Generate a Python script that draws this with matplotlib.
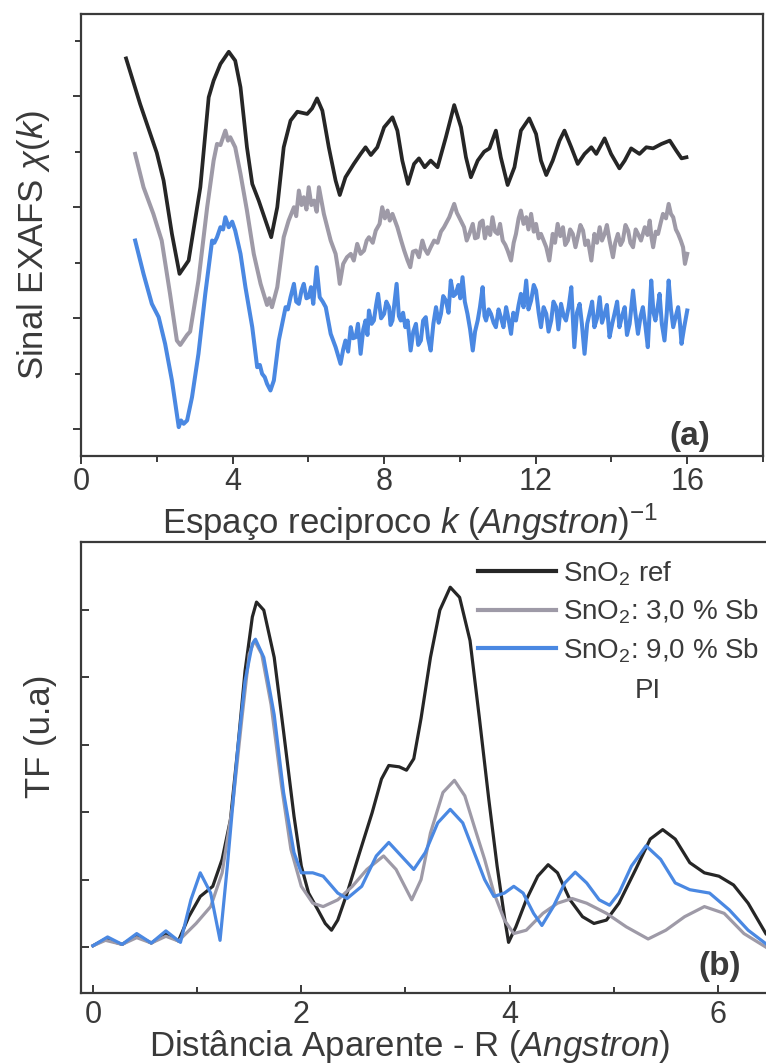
import matplotlib
matplotlib.use("Agg")
import matplotlib.pyplot as plt
from matplotlib.ticker import MultipleLocator
from matplotlib.lines import Line2D

plt.rcParams['font.family'] = ['Liberation Sans', 'DejaVu Sans']
plt.rcParams['mathtext.fontset'] = 'custom'
plt.rcParams['mathtext.rm'] = 'Liberation Sans'
plt.rcParams['mathtext.it'] = 'Liberation Sans:italic'
plt.rcParams['mathtext.bf'] = 'Liberation Sans:bold'

# ---- (a) EXAFS signal chi(k), curves stacked with offsets ----
k_ref = [1.19, 1.56, 2.00, 2.18, 2.40, 2.60, 2.84, 3.15, 3.37, 3.50, 3.68, 3.90, 4.07, 4.21,
         4.38, 4.52, 4.69, 4.87, 5.02, 5.18, 5.35, 5.53, 5.71, 5.97, 6.10, 6.23, 6.37, 6.54,
         6.72, 6.83, 6.98, 7.20, 7.38, 7.51, 7.65, 7.82, 8.00, 8.22, 8.35, 8.48, 8.63, 8.79,
         8.92, 9.07, 9.23, 9.41, 9.63, 9.85, 10.03, 10.16, 10.29, 10.47, 10.64, 10.78, 10.95,
         11.08, 11.26, 11.44, 11.61, 11.83, 12.01, 12.14, 12.28, 12.45, 12.63, 12.76, 12.94,
         13.11, 13.29, 13.47, 13.60, 13.82, 13.99, 14.21, 14.35, 14.52, 14.74, 14.92, 15.10,
         15.32, 15.54, 15.71, 15.85, 15.98]
chi_ref = [3.34, 2.93, 2.49, 2.24, 1.76, 1.40, 1.52, 2.18, 2.99, 3.14, 3.29, 3.40, 3.32, 3.08,
           2.54, 2.21, 2.06, 1.88, 1.73, 2.00, 2.54, 2.78, 2.86, 2.84, 2.89, 2.98, 2.87, 2.54,
           2.24, 2.11, 2.27, 2.39, 2.48, 2.54, 2.47, 2.54, 2.72, 2.81, 2.69, 2.42, 2.21, 2.39,
           2.44, 2.36, 2.42, 2.36, 2.63, 2.92, 2.72, 2.45, 2.27, 2.42, 2.50, 2.53, 2.69,
           2.45, 2.20, 2.36, 2.69, 2.80, 2.66, 2.42, 2.29, 2.42, 2.60, 2.69, 2.54,
           2.39, 2.48, 2.54, 2.48, 2.62, 2.48, 2.35, 2.42, 2.53, 2.48, 2.54, 2.53,
           2.57, 2.60, 2.51, 2.44, 2.45]

k_sb3 = [1.43, 1.65, 1.91, 2.13, 2.35, 2.53, 2.62, 2.80, 2.88, 3.10, 3.33, 3.50, 3.59, 3.68,
         3.74, 3.81, 3.88, 3.94, 4.07, 4.21, 4.38, 4.56, 4.74, 4.91, 4.97, 5.04, 5.18, 5.35,
         5.48, 5.62, 5.68, 5.75, 5.82, 5.88, 5.95, 6.01, 6.08, 6.15, 6.22, 6.28, 6.41, 6.59,
         6.72, 6.78, 6.83, 6.92, 7.02, 7.12, 7.20, 7.29, 7.38, 7.47, 7.54, 7.60, 7.70, 7.78,
         7.88, 7.95, 8.02, 8.09, 8.15, 8.22, 8.35, 8.45, 8.53, 8.62, 8.69, 8.76, 8.84, 8.92,
         9.01, 9.08, 9.15, 9.23, 9.32, 9.41, 9.50, 9.58, 9.72, 9.85, 9.92, 9.98, 10.11, 10.18,
         10.25, 10.34, 10.40, 10.47, 10.53, 10.60, 10.66, 10.73, 10.80, 10.86, 10.93, 11.00,
         11.06, 11.13, 11.20, 11.26, 11.35, 11.42, 11.48, 11.55, 11.61, 11.68, 11.75, 11.81,
         11.88, 11.95, 12.01, 12.08, 12.14, 12.21, 12.28, 12.36, 12.45, 12.51, 12.58, 12.65,
         12.72, 12.78, 12.85, 12.91, 12.98, 13.05, 13.11, 13.18, 13.25, 13.31, 13.38, 13.47,
         13.55, 13.62, 13.69, 13.75, 13.82, 13.88, 13.95, 14.04, 14.10, 14.17, 14.24, 14.30,
         14.37, 14.44, 14.50, 14.57, 14.64, 14.70, 14.78, 14.88, 14.95, 15.01, 15.06, 15.10,
         15.17, 15.23, 15.30, 15.36, 15.44, 15.51, 15.57, 15.63, 15.70, 15.76, 15.83, 15.89,
         15.94, 16.00]
chi_sb3 = [2.48, 2.18, 1.94, 1.70, 1.22, 0.80, 0.76, 0.85, 0.88, 1.34, 2.00, 2.42, 2.57, 2.56,
           2.62, 2.69, 2.60, 2.63, 2.54, 2.30, 1.97, 1.58, 1.31, 1.12, 1.18, 1.10, 1.28, 1.73,
           1.88, 2.00, 1.92, 2.15, 2.02, 2.09, 1.98, 2.18, 2.02, 2.06, 1.96, 2.18, 1.94, 1.70,
           1.58, 1.45, 1.31, 1.49, 1.55, 1.58, 1.52, 1.67, 1.58, 1.61, 1.70, 1.73, 1.68, 1.79,
           1.85, 2.00, 1.90, 1.97, 1.88, 1.94, 1.82, 1.70, 1.61, 1.52, 1.46, 1.60, 1.61, 1.55,
           1.70, 1.62, 1.58, 1.64, 1.70, 1.68, 1.78, 1.82, 1.91, 2.03, 1.95, 1.91, 1.82, 1.70,
           1.76, 1.85, 1.72, 1.73, 1.86, 1.88, 1.72, 1.82, 1.75, 1.91, 1.78, 1.76,
           1.85, 1.70, 1.66, 1.61, 1.52, 1.68, 1.76, 1.90, 1.97, 1.85, 1.91, 1.80,
           1.94, 1.78, 1.85, 1.72, 1.76, 1.70, 1.64, 1.52, 1.76, 1.68, 1.85, 1.74,
           1.82, 1.66, 1.70, 1.80, 1.76, 1.64, 1.73, 1.84, 1.79, 1.66, 1.70, 1.52,
           1.76, 1.68, 1.82, 1.70, 1.76, 1.84, 1.70, 1.55, 1.68, 1.76, 1.66, 1.70,
           1.84, 1.79, 1.68, 1.64, 1.80, 1.76, 1.70, 1.82, 1.75, 1.88, 1.72, 1.64,
           1.78, 1.76, 1.86, 1.94, 1.90, 2.03, 1.94, 1.91, 1.80, 1.76, 1.70, 1.64,
           1.49, 1.58]

k_sb9 = [1.43, 1.65, 1.87, 2.05, 2.22, 2.40, 2.58, 2.64, 2.71, 2.80, 2.93, 3.10, 3.28, 3.46,
         3.52, 3.59, 3.68, 3.75, 3.81, 3.90, 3.99, 4.07, 4.21, 4.34, 4.52, 4.65, 4.72, 4.78,
         4.85, 4.91, 5.00, 5.09, 5.22, 5.40, 5.46, 5.53, 5.62, 5.68, 5.75, 5.82, 5.88, 5.95,
         6.01, 6.07, 6.13, 6.22, 6.30, 6.38, 6.46, 6.59, 6.72, 6.79, 6.85, 6.92, 6.98, 7.05,
         7.12, 7.18, 7.25, 7.31, 7.38, 7.45, 7.51, 7.56, 7.60, 7.67, 7.73, 7.79, 7.84, 7.92,
         8.00, 8.06, 8.13, 8.17, 8.22, 8.33, 8.39, 8.44, 8.50, 8.56, 8.62, 8.70, 8.77, 8.84,
         8.90, 8.97, 9.03, 9.10, 9.16, 9.23, 9.30, 9.37, 9.44, 9.50, 9.56, 9.63, 9.70, 9.76,
         9.83, 9.89, 9.96, 10.01, 10.07, 10.13, 10.20, 10.27, 10.34, 10.40, 10.47, 10.53,
         10.60, 10.65, 10.69, 10.76, 10.82, 10.89, 10.95, 11.02, 11.08, 11.15, 11.22, 11.28,
         11.35, 11.41, 11.48, 11.55, 11.61, 11.68, 11.75, 11.81, 11.88, 11.95, 12.01, 12.08,
         12.14, 12.21, 12.28, 12.34, 12.41, 12.47, 12.54, 12.60, 12.67, 12.74, 12.80, 12.87,
         12.94, 13.02, 13.09, 13.16, 13.22, 13.29, 13.36, 13.42, 13.49, 13.55, 13.62, 13.69,
         13.75, 13.82, 13.88, 13.95, 14.02, 14.08, 14.15, 14.21, 14.28, 14.35, 14.41, 14.48,
         14.57, 14.63, 14.70, 14.77, 14.83, 14.90, 14.96, 15.05, 15.11, 15.16, 15.22, 15.27,
         15.33, 15.40, 15.46, 15.51, 15.57, 15.63, 15.70, 15.76, 15.81, 15.85, 15.92, 16.00]
chi_sb9 = [1.70, 1.40, 1.13, 1.01, 0.77, 0.44, 0.02, 0.08, 0.05, 0.08, 0.29, 0.68, 1.22, 1.70,
           1.68, 1.73, 1.82, 1.80, 1.91, 1.82, 1.87, 1.79, 1.58, 1.28, 0.92, 0.56, 0.58, 0.50,
           0.47, 0.41, 0.35, 0.44, 0.80, 1.10, 1.08, 1.19, 1.31, 1.15, 1.13, 1.25, 1.31, 1.18,
           1.19, 1.28, 1.13, 1.46, 1.19, 1.15, 1.10, 0.86, 0.74, 0.66, 0.59, 0.72, 0.80, 0.70,
           0.92, 0.82, 0.83, 0.95, 0.68, 0.90, 0.98, 0.85, 1.07, 0.95, 0.98, 1.12, 1.22, 1.00,
           1.04, 1.15, 1.10, 0.94, 0.98, 1.31, 1.02, 0.98, 1.05, 0.92, 0.98, 0.71, 0.88, 0.95,
           0.76, 0.80, 0.98, 1.01, 0.82, 0.71, 0.95, 1.10, 0.96, 1.04, 1.20, 1.16, 1.05, 1.34,
           1.20, 1.22, 1.30, 1.18, 1.37, 1.15, 1.04, 0.90, 0.71, 0.88, 0.98, 1.10,
           1.28, 1.02, 0.98, 1.08, 1.04, 0.96, 0.92, 1.08, 1.01, 0.92, 1.10, 1.00,
           0.86, 1.05, 0.98, 1.12, 1.22, 1.10, 1.34, 1.08, 1.16, 1.30, 1.25, 1.05,
           0.92, 1.10, 1.04, 0.88, 0.98, 1.15, 1.10, 0.90, 1.13, 1.02, 0.98, 1.10,
           1.28, 0.74, 1.05, 1.13, 0.95, 0.68, 0.95, 1.04, 1.15, 0.92, 1.00, 1.19,
           0.96, 1.04, 1.12, 0.83, 0.95, 1.04, 1.15, 0.92, 1.02, 1.10, 0.85, 0.95,
           1.25, 1.05, 0.86, 1.02, 1.10, 0.92, 0.74, 1.34, 1.05, 0.98, 1.10, 1.22,
           0.95, 0.80, 1.05, 1.34, 1.08, 0.92, 1.02, 1.10, 0.95, 0.77, 0.92, 1.07]

# ---- (b) Fourier transform magnitude vs R ----
r_ref = [0.00, 0.12, 0.28, 0.42, 0.56, 0.70, 0.82, 0.92, 1.03, 1.15, 1.24, 1.32, 1.39, 1.46,
         1.53, 1.57, 1.64, 1.74, 1.83, 1.93, 2.00, 2.07, 2.16, 2.23, 2.29, 2.35, 2.44, 2.56,
         2.68, 2.77, 2.84, 2.94, 3.01, 3.08, 3.15, 3.24, 3.33, 3.43, 3.52, 3.62, 3.71, 3.80,
         3.88, 3.95, 3.99, 4.06, 4.16, 4.27, 4.37, 4.46, 4.58, 4.70, 4.81, 4.93, 5.05, 5.21,
         5.35, 5.47, 5.59, 5.73, 5.87, 6.01, 6.15, 6.29, 6.46]
tf_ref = [0.02, 0.12, 0.04, 0.17, 0.06, 0.20, 0.09, 0.45, 0.75, 0.90, 1.30, 1.89, 2.94, 4.09,
          4.89, 5.11, 4.99, 4.29, 3.19, 1.94, 1.20, 0.80, 0.55, 0.35, 0.25, 0.40, 0.80, 1.40,
          1.99, 2.49, 2.69, 2.67, 2.62, 2.79, 3.39, 4.29, 4.99, 5.33, 5.18, 4.54, 3.39, 2.19,
          1.20, 0.45, 0.07, 0.30, 0.70, 1.05, 1.22, 1.10, 0.70, 0.45, 0.35, 0.40, 0.65, 1.15,
          1.60, 1.74, 1.60, 1.25, 1.10, 1.05, 0.92, 0.65, 0.20]

r_sb3 = [0.00, 0.12, 0.28, 0.42, 0.56, 0.70, 0.82, 0.99, 1.13, 1.24, 1.34, 1.43, 1.50, 1.55,
         1.62, 1.71, 1.81, 1.90, 2.00, 2.11, 2.21, 2.35, 2.49, 2.63, 2.79, 2.91, 3.01, 3.06,
         3.15, 3.24, 3.36, 3.47, 3.57, 3.66, 3.76, 3.85, 3.95, 4.04, 4.16, 4.32, 4.46, 4.60,
         4.74, 4.93, 5.12, 5.33, 5.50, 5.68, 5.87, 6.06, 6.25, 6.46]
tf_sb3 = [0.02, 0.10, 0.04, 0.14, 0.06, 0.16, 0.09, 0.35, 0.60, 1.10, 2.09, 3.39, 4.34, 4.54,
          4.34, 3.59, 2.39, 1.45, 0.90, 0.65, 0.60, 0.70, 0.90, 1.15, 1.35, 1.15, 0.85, 0.70,
          1.00, 1.69, 2.29, 2.47, 2.24, 1.79, 1.30, 0.80, 0.40, 0.20, 0.25, 0.50, 0.65, 0.72,
          0.65, 0.50, 0.30, 0.12, 0.25, 0.45, 0.60, 0.50, 0.20, 0.00]

r_sb9 = [0.00, 0.14, 0.28, 0.42, 0.56, 0.70, 0.84, 0.94, 1.03, 1.13, 1.22, 1.29, 1.39, 1.46,
         1.53, 1.56, 1.64, 1.74, 1.83, 1.93, 2.00, 2.11, 2.21, 2.35, 2.44, 2.58, 2.72, 2.84,
         2.96, 3.08, 3.19, 3.31, 3.43, 3.55, 3.66, 3.76, 3.85, 3.95, 4.04, 4.13, 4.23, 4.31,
         4.42, 4.53, 4.63, 4.74, 4.86, 4.96, 5.05, 5.17, 5.31, 5.45, 5.59, 5.73, 5.92, 6.11,
         6.29, 6.46]
tf_sb9 = [0.02, 0.15, 0.04, 0.20, 0.06, 0.24, 0.07, 0.70, 1.10, 0.80, 0.10, 1.20, 2.94, 3.94,
          4.49, 4.56, 4.29, 3.44, 2.29, 1.40, 1.10, 1.10, 1.05, 0.80, 0.72, 0.90, 1.35, 1.55,
          1.35, 1.15, 1.40, 1.84, 2.04, 1.84, 1.40, 1.00, 0.75, 0.80, 0.90, 0.80, 0.50, 0.32,
          0.60, 0.95, 1.11, 0.95, 0.70, 0.62, 0.80, 1.20, 1.50, 1.30, 0.95, 0.85, 0.80, 0.55,
          0.25, 0.05]

labels = [r'SnO$_2$ ref', r'SnO$_2$: 3,0 % Sb', r'SnO$_2$: 9,0 % Sb']
c_ref = '#262626'
c_sb3 = '#9e9aa7'
c_sb9 = '#4a88e2'
txt = '#3a3a3a'

W, H = 766, 1063
fig = plt.figure(figsize=(W / 100, H / 100), dpi=100)

ax1 = fig.add_axes([81 / W, 1 - 456 / H, 682 / W, 442 / H])
ax1.plot(k_ref, chi_ref, color=c_ref, lw=2.7, solid_joinstyle='round')
ax1.plot(k_sb3, chi_sb3, color=c_sb3, lw=2.9, solid_joinstyle='round')
ax1.plot(k_sb9, chi_sb9, color=c_sb9, lw=2.9, solid_joinstyle='round')
ax1.set_xlim(0, 18)
ax1.set_ylim(-0.24, 3.74)
ax1.xaxis.set_major_locator(MultipleLocator(4))
ax1.xaxis.set_minor_locator(MultipleLocator(2))
ax1.yaxis.set_major_locator(MultipleLocator(1))
ax1.yaxis.set_minor_locator(MultipleLocator(0.5))
ax1.set_yticklabels([])
ax1.tick_params(which='both', direction='out', colors=txt, width=1.4,
                top=False, right=False, labelsize=22, labelcolor=txt, pad=2)
ax1.tick_params(which='major', length=6)
ax1.tick_params(which='minor', length=4)
ax1.set_xlabel(r'Espaço reciproco $\mathit{k\ (Angstron)}^{-1}$', fontsize=25, color=txt)
ax1.xaxis.set_label_coords(0.482, -0.149)
ax1.xaxis.label.set_va('center')
ax1.set_ylabel(r'Sinal EXAFS $\chi(k)$', fontsize=25, color=txt)
ax1.yaxis.set_label_coords(-0.070, 0.477)
ax1.yaxis.label.set_va('center')
ax1.text(0.893, 0.045, '(a)', transform=ax1.transAxes, fontsize=24, fontweight='bold',
         color=txt, ha='center', va='center')

ax2 = fig.add_axes([81 / W, 1 - 993 / H, 689 / W, 451 / H])
ax2.plot(r_ref, tf_ref, color=c_ref, lw=2.3, solid_joinstyle='round')
ax2.plot(r_sb3, tf_sb3, color=c_sb3, lw=2.3, solid_joinstyle='round')
ax2.plot(r_sb9, tf_sb9, color=c_sb9, lw=2.3, solid_joinstyle='round')
ax2.set_xlim(-0.115, 6.50)
ax2.set_ylim(-0.68, 6.0)
ax2.xaxis.set_major_locator(MultipleLocator(2))
ax2.xaxis.set_minor_locator(MultipleLocator(1))
ax2.set_yticks([0, 1, 2, 3, 4, 5])
ax2.set_yticklabels([])
ax2.tick_params(which='both', direction='in', colors=txt, width=1.4,
                top=False, right=False, labelsize=22, labelcolor=txt, pad=5)
ax2.tick_params(which='major', length=6)
ax2.tick_params(which='minor', length=4)
ax2.set_xlabel(r'Distância Aparente - R ($\mathit{Angstron}$)', fontsize=25, color=txt)
ax2.xaxis.set_label_coords(0.4775, -0.118)
ax2.xaxis.label.set_va('center')
ax2.set_ylabel('TF (u.a)', fontsize=25, color=txt)
ax2.yaxis.set_label_coords(-0.0595, 0.570)
ax2.yaxis.label.set_va('center')
ax2.text(0.927, 0.058, '(b)', transform=ax2.transAxes, fontsize=24, fontweight='bold',
         color=txt, ha='center', va='center')

handles = [Line2D([], [], color=c, lw=3) for c in (c_ref, c_sb3, c_sb9)]
leg = ax2.legend(handles, labels, loc='upper left', bbox_to_anchor=(0.576, 0.962),
                 frameon=False, fontsize=20, handlelength=2.8, handletextpad=0.25,
                 labelspacing=0.36, borderaxespad=0, borderpad=0)
for t in leg.get_texts():
    t.set_color(txt)
ax2.text(0.822, 0.670, 'PI', transform=ax2.transAxes, fontsize=20, color=txt,
         ha='center', va='center')

for ax in (ax1, ax2):
    for s in ax.spines.values():
        s.set_color('#3a3a3a')
        s.set_linewidth(1.6)

fig.savefig('out.png', dpi=100)
